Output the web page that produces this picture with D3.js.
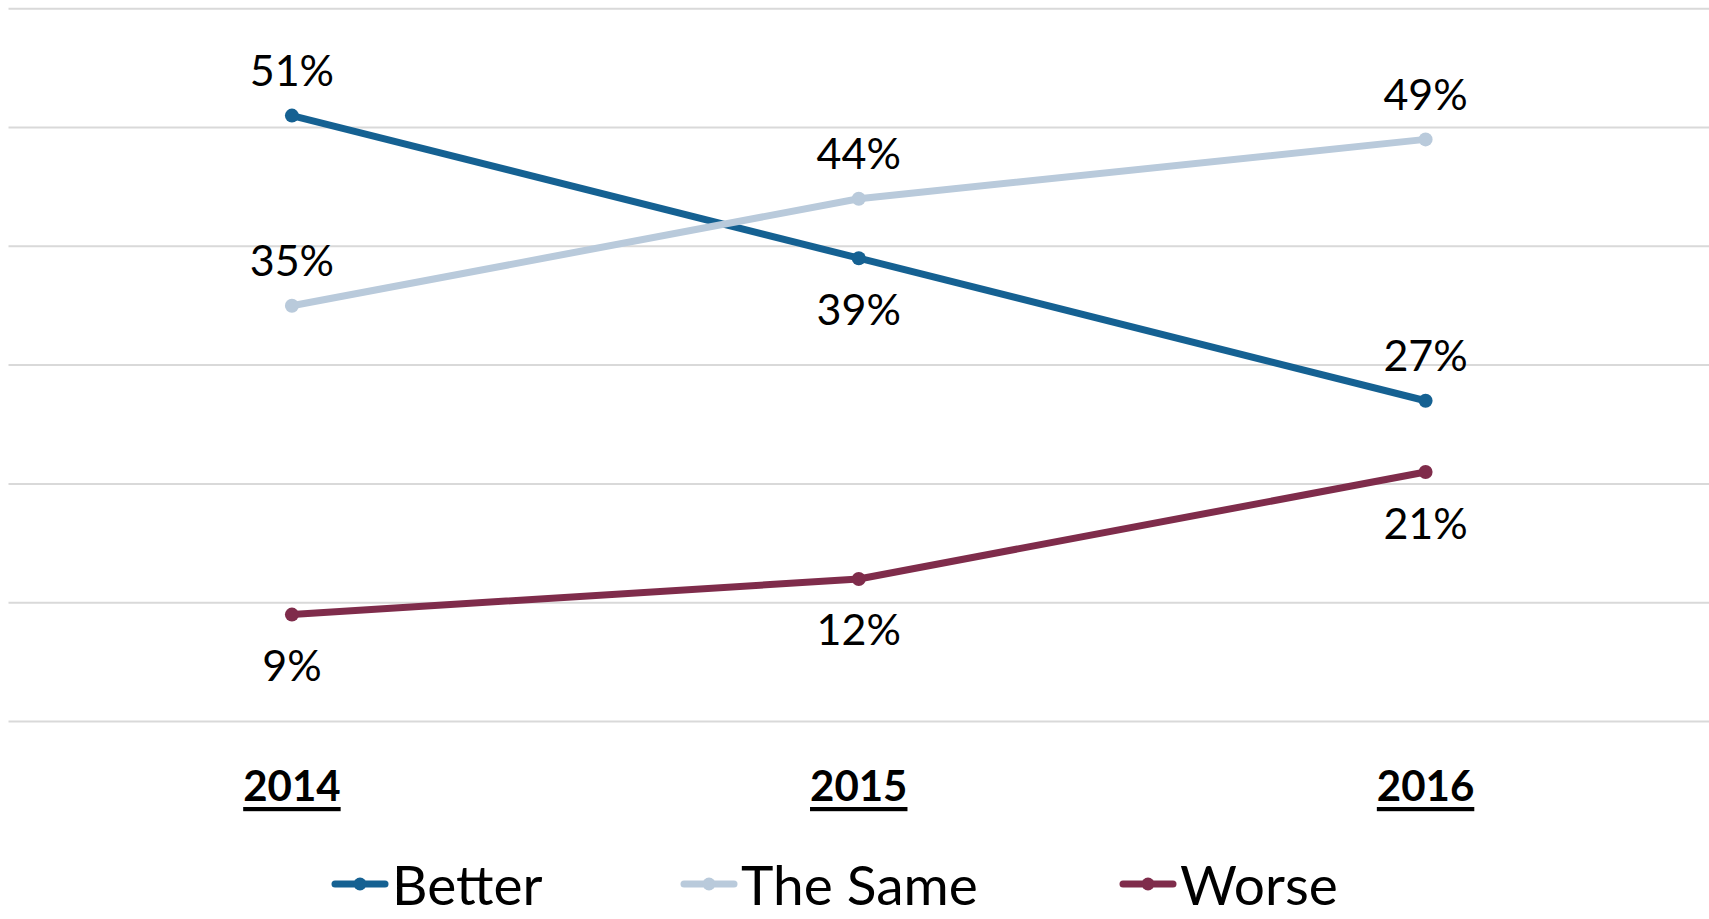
<!DOCTYPE html>
<html>
<head>
<meta charset="utf-8">
<script src="https://cdn.jsdelivr.net/npm/d3@7"></script>
<style>
  html, body { margin: 0; padding: 0; background: #ffffff; }
  svg { display: block; }
  text { font-family: Lato, "Open Sans", sans-serif; }
</style>
</head>
<body>
<svg id="chart" width="1709" height="919"></svg>
<script>
// ---- Data ----
const years = ["2014", "2015", "2016"];
const seriesNames = ["Better", "The Same", "Worse"];
const betterValues = [51, 39, 27];
const sameValues = [35, 44, 49];
const worseValues = [9, 12, 21];
const yTicks = [0, 10, 20, 30, 40, 50, 60];

// label placement per series (above / below the point)
const betterLabelPos = ["above", "below", "above"];
const sameLabelPos = ["above", "above", "above"];
const worseLabelPos = ["below", "below", "below"];

const colors = ["#156192", "#b9cadb", "#7f2c4b"];

const series = [
  { name: seriesNames[0], values: betterValues, pos: betterLabelPos, color: colors[0] },
  { name: seriesNames[1], values: sameValues, pos: sameLabelPos, color: colors[1] },
  { name: seriesNames[2], values: worseValues, pos: worseLabelPos, color: colors[2] }
];

// ---- Layout ----
const svg = d3.select("#chart");
const plotLeft = 8.5, plotRight = 1709, plotTop = 8.7, plotBottom = 721.5;

const x = d3.scaleBand().domain(years).range([plotLeft, plotRight]);
const y = d3.scaleLinear().domain([0, 60]).range([plotBottom, plotTop]);
const cx = d => x(d) + x.bandwidth() / 2;

// gridlines
svg.append("g").selectAll("line").data(yTicks).join("line")
  .attr("x1", plotLeft).attr("x2", plotRight)
  .attr("y1", d => y(d)).attr("y2", d => y(d))
  .attr("stroke", "#d9d9d9").attr("stroke-width", 2);

// category labels
svg.append("g").selectAll("text").data(years).join("text")
  .attr("x", d => cx(d)).attr("y", 785)
  .attr("text-anchor", "middle").attr("dominant-baseline", "central")
  .attr("font-size", 42).attr("font-weight", "bold")
  .attr("text-decoration", "underline")
  .attr("fill", "#000").text(d => d);

// lines
const line = d3.line().x((v, i) => cx(years[i])).y(v => y(v));
const g = svg.append("g");
series.forEach(s => {
  g.append("path").datum(s.values)
    .attr("d", line).attr("fill", "none")
    .attr("stroke", s.color).attr("stroke-width", 7)
    .attr("stroke-linejoin", "round");
  g.selectAll(null).data(s.values).join("circle")
    .attr("cx", (v, i) => cx(years[i])).attr("cy", v => y(v))
    .attr("r", 7).attr("fill", s.color);
});

// data labels
series.forEach(s => {
  svg.append("g").selectAll("text").data(s.values).join("text")
    .attr("x", (v, i) => cx(years[i]))
    .attr("y", (v, i) => y(v) + (s.pos[i] === "above" ? -46 : 50))
    .attr("text-anchor", "middle").attr("dominant-baseline", "central")
    .attr("font-size", 43).attr("fill", "#000")
    .text(v => v + "%");
});

// legend
const legendX = [332, 681, 1120];
const legendY = 884;
const lg = svg.append("g");
series.forEach((s, i) => {
  const gx = legendX[i];
  lg.append("line").attr("x1", gx + 3).attr("x2", gx + 53)
    .attr("y1", legendY).attr("y2", legendY)
    .attr("stroke", s.color).attr("stroke-width", 7).attr("stroke-linecap", "round");
  lg.append("circle").attr("cx", gx + 28).attr("cy", legendY).attr("r", 6.5).attr("fill", s.color);
  lg.append("text").attr("x", gx + 60).attr("y", legendY)
    .attr("dominant-baseline", "central")
    .attr("font-size", 55).attr("fill", "#000").text(s.name);
});
</script>
</body>
</html>
